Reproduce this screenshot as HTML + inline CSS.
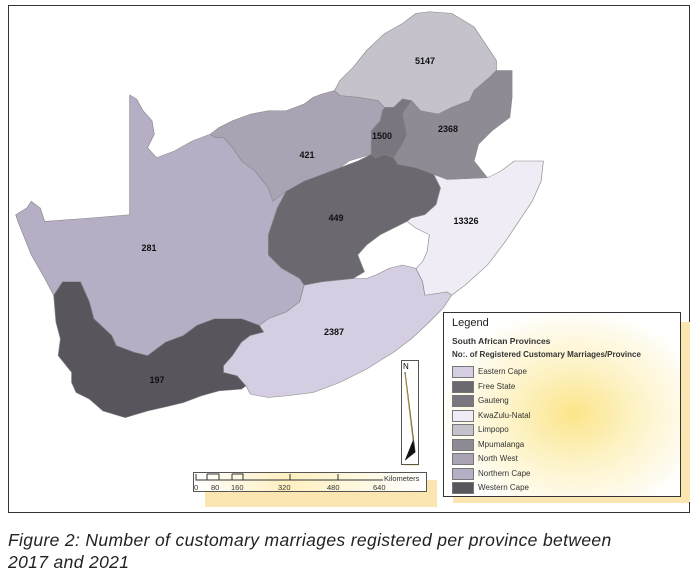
<!DOCTYPE html>
<html><head><style>
body{margin:0;background:#fff;width:699px;height:577px;position:relative;overflow:hidden;font-family:"Liberation Sans",sans-serif}
.lb{position:absolute;font-size:9px;font-weight:bold;color:#111;transform:translate(-50%,-50%)}
.cap{position:absolute;left:8px;font-size:17.5px;letter-spacing:0.35px;font-style:italic;color:#222;white-space:nowrap}
.leg{position:absolute;left:443px;top:312px;width:236px;height:183px;border:1px solid #333;background:radial-gradient(ellipse at 55% 55%,#fbe58a 0%,#fdf3c8 35%,#fff 75%)}
.sw{position:absolute;left:8px;width:20px;height:10px;border:1px solid #777}
.sl{position:absolute;left:34px;font-size:8px;color:#333}
</style></head><body>
<div style="position:absolute;left:8px;top:5px;width:680px;height:506px;border:1px solid #333"></div>
<svg style="position:absolute;left:0;top:0" width="699" height="520" viewBox="0 0 1563 1550" preserveAspectRatio="none">
<g stroke="#888" stroke-width="1.5">
<polygon fill="#c5c2cc" points="748,270 760,240 790,200 820,150 860,100 900,70 930,40 960,35 1010,40 1060,80 1090,140 1110,180 1110,210 1095,230 1060,270 1050,300 1010,320 980,340 940,330 920,300 900,295 880,320 860,320 845,300 800,290 760,285"/>
<polygon fill="#8e8b94" points="1110,210 1145,210 1145,290 1140,350 1100,390 1070,430 1060,480 1090,530 1000,535 930,500 890,490 880,470 900,430 910,400 900,340 920,300 940,330 980,340 1010,320 1050,300 1060,270 1095,230"/>
<polygon fill="#7a7680" points="860,320 880,320 900,295 920,300 900,340 910,400 900,430 880,470 860,460 840,470 830,460 830,390 850,360 855,330"/>
<polygon fill="#a9a3b4" points="490,380 520,360 560,340 600,330 640,330 680,310 700,290 720,280 748,270 760,285 800,290 845,300 860,320 855,330 850,360 830,390 830,460 780,480 750,510 700,540 650,570 630,590 610,600 600,560 570,510 540,480 520,440 500,410 480,410 470,400"/>
<polygon fill="#b5aec4" points="290,283 305,295 320,330 340,360 345,400 330,440 350,470 390,450 430,420 470,400 480,410 500,410 520,440 540,480 570,510 600,560 610,600 640,570 620,620 600,700 600,760 630,800 670,830 680,850 670,900 640,930 600,950 580,970 540,950 480,950 440,970 410,1000 370,1020 330,1060 300,1050 260,1030 250,1000 210,950 200,900 180,840 140,840 120,880 100,830 70,760 40,660 35,640 60,620 70,600 90,620 100,660 200,650 290,640"/>
<polygon fill="#58555c" points="120,880 140,840 180,840 200,900 210,950 250,1000 260,1030 300,1050 330,1060 370,1020 410,1000 440,970 480,950 540,950 580,970 590,990 560,1000 540,1020 520,1060 500,1090 500,1110 530,1120 550,1150 540,1160 490,1165 450,1180 410,1200 380,1210 330,1225 280,1245 230,1225 200,1190 170,1170 160,1140 160,1110 130,1060 135,1010 125,960"/>
<polygon fill="#d5cde2" points="580,970 600,950 640,930 670,900 680,850 720,840 790,830 820,830 840,820 870,800 900,790 930,800 945,840 950,880 1000,870 1010,880 990,920 960,960 920,1010 880,1050 820,1100 760,1140 700,1170 640,1180 600,1185 560,1175 550,1150 530,1120 500,1110 500,1090 520,1060 540,1020 560,1000 590,990"/>
<polygon fill="#6b6870" points="640,570 680,540 720,520 760,500 800,480 830,460 840,470 860,460 880,470 890,490 930,500 970,520 985,560 975,610 950,640 920,650 910,660 880,680 850,700 820,730 800,760 815,810 790,830 720,840 680,850 670,830 630,800 600,760 600,700 620,620"/>
<polygon fill="#efecf6" points="1000,535 1090,530 1120,510 1150,480 1215,480 1210,540 1190,600 1160,660 1130,720 1090,790 1040,850 1010,880 1000,870 950,880 945,840 930,800 945,780 955,750 960,700 930,680 910,660 920,650 950,640 975,610 985,560 970,520"/>
</g></svg>
<div class="lb" style="left:425px;top:61px">5147</div>
<div class="lb" style="left:448px;top:129px">2368</div>
<div class="lb" style="left:382px;top:136px">1500</div>
<div class="lb" style="left:307px;top:155px">421</div>
<div class="lb" style="left:336px;top:218px">449</div>
<div class="lb" style="left:466px;top:221px">13326</div>
<div class="lb" style="left:149px;top:248px">281</div>
<div class="lb" style="left:334px;top:332px">2387</div>
<div class="lb" style="left:157px;top:380px">197</div>
<div style="position:absolute;left:405px;top:365px;width:14px;height:101px;background:#fbe9b8"></div>
<div style="position:absolute;left:401px;top:360px;width:16px;height:103px;border:1px solid #555;background:#fff"></div>
<svg style="position:absolute;left:401px;top:360px" width="18" height="105"><text x="2" y="9" font-size="8" font-family="Liberation Sans">N</text><polyline points="4,12 14,92 4,100" fill="none" stroke="#333"/><polygon points="4,100 14,92 12,80" fill="#111"/><line x1="4" y1="14" x2="12" y2="80" stroke="#b59a3a"/></svg>
<div style="position:absolute;left:205px;top:480px;width:232px;height:27px;background:#fbe5b0"></div>
<div style="position:absolute;left:193px;top:472px;width:232px;height:18px;border:1px solid #555;background:linear-gradient(90deg,#fff,#fdf0c0 40%,#fff)"></div>
<svg style="position:absolute;left:193px;top:472px" width="240" height="22" font-family="Liberation Sans" font-size="7.5" fill="#333">
<path d="M3,2V8H14V2M14,8H26V2H14M39,2V8H50V2H39M97,2V8H145V2M3,8H190" fill="none" stroke="#333" stroke-width="1"/>
<text x="1" y="18">0</text><text x="18" y="18">80</text><text x="38" y="18">160</text><text x="85" y="18">320</text><text x="134" y="18">480</text><text x="180" y="18">640</text><text x="191" y="9">Kilometers</text></svg>
<div style="position:absolute;left:681px;top:322px;width:9px;height:180px;background:#fbe5b0"></div>
<div style="position:absolute;left:453px;top:495px;width:236px;height:8px;background:#fbe5b0"></div>
<div class="leg">
<div style="position:absolute;left:8px;top:4px;font-size:11px;color:#222">Legend</div>
<div style="position:absolute;left:8px;top:23px;font-size:8.5px;font-weight:bold;color:#333">South African Provinces</div>
<div style="position:absolute;left:8px;top:37px;font-size:8px;font-weight:bold;color:#333;white-space:nowrap">No:. of Registered Customary Marriages/Province</div>
<div class="sw" style="top:53px;background:#d5cde2"></div><div class="sl" style="top:54px">Eastern Cape</div>
<div class="sw" style="top:68px;background:#6b6870"></div><div class="sl" style="top:69px">Free State</div>
<div class="sw" style="top:82px;background:#7a7680"></div><div class="sl" style="top:83px">Gauteng</div>
<div class="sw" style="top:97px;background:#efecf6"></div><div class="sl" style="top:98px">KwaZulu-Natal</div>
<div class="sw" style="top:111px;background:#c5c2cc"></div><div class="sl" style="top:112px">Limpopo</div>
<div class="sw" style="top:126px;background:#8e8b94"></div><div class="sl" style="top:127px">Mpumalanga</div>
<div class="sw" style="top:140px;background:#a9a3b4"></div><div class="sl" style="top:141px">North West</div>
<div class="sw" style="top:155px;background:#b5aec4"></div><div class="sl" style="top:156px">Northern Cape</div>
<div class="sw" style="top:169px;background:#58555c"></div><div class="sl" style="top:170px">Western Cape</div>
</div>
<div class="cap" style="top:530px">Figure 2: Number of customary marriages registered per province between</div>
<div class="cap" style="top:552px">2017 and 2021</div>
</body></html>
